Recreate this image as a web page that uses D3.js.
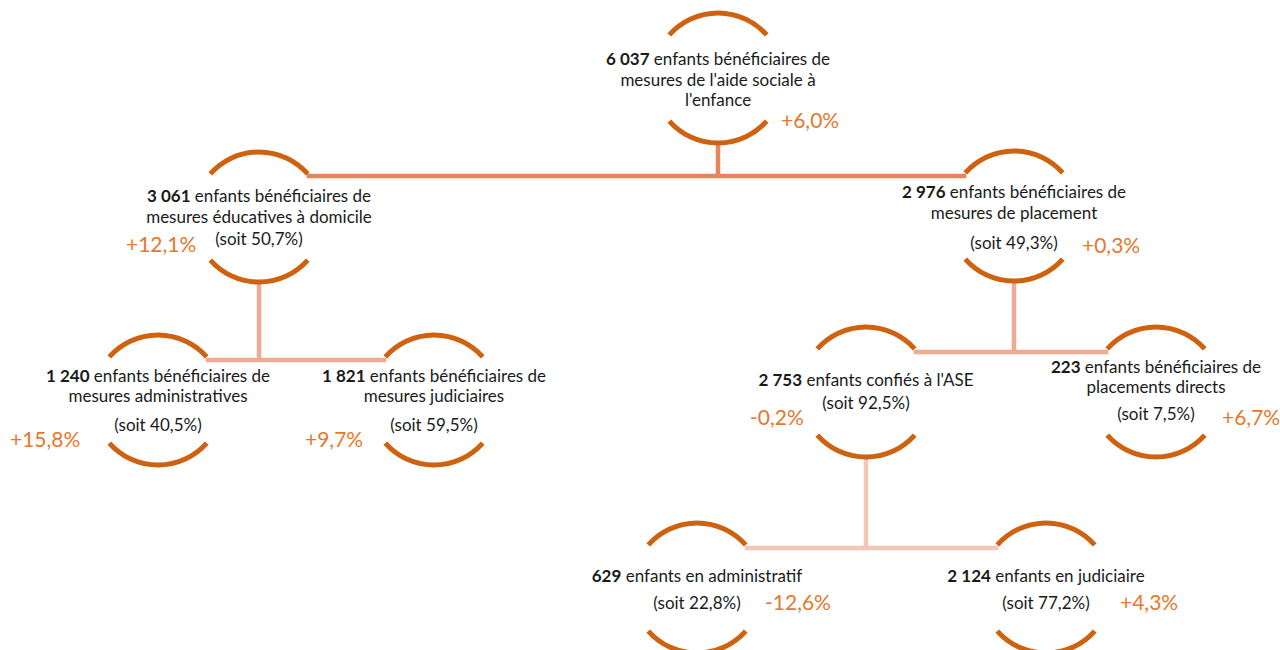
<!DOCTYPE html>
<html><head><meta charset="utf-8">
<script src="https://cdn.jsdelivr.net/npm/d3@7"></script>
<style>
html,body{margin:0;padding:0;background:#fff;}
svg{display:block;font-family:Lato, "Open Sans", sans-serif;}
</style></head>
<body><svg id="chart" width="1280" height="650"></svg>
<script>
// ---- DATA ----
const nodeIds   = ["total","domicile","placement","admin","judic","ase","directs","aseAdmin","aseJudic"];
const parents   = [null,"total","total","domicile","domicile","placement","placement","ase","ase"];
const counts    = [6037,3061,2976,1240,1821,2753,223,629,2124];
const shares    = [null,50.7,49.3,40.5,59.5,92.5,7.5,22.8,77.2];
const changes   = [6.0,12.1,0.3,15.8,9.7,-0.2,6.7,-12.6,4.3];
const labelLines = [
  ["enfants bénéficiaires de","mesures de l'aide sociale à","l'enfance"],
  ["enfants bénéficiaires de","mesures éducatives à domicile"],
  ["enfants bénéficiaires de","mesures de placement"],
  ["enfants bénéficiaires de","mesures administratives"],
  ["enfants bénéficiaires de","mesures judiciaires"],
  ["enfants confiés à l'ASE"],
  ["enfants bénéficiaires de","placements directs"],
  ["enfants en administratif"],
  ["enfants en judiciaire"]
];

// ---- LAYOUT (positions only) ----
const layout = {
  total:    {cx:718, cy:78,  lines:[65,86,106],      pct:[781,128]},
  domicile: {cx:259, cy:217, lines:[202,223,245],    pct:[126,252]},
  placement:{cx:1014,cy:216, lines:[198,219,249],    pct:[1082,253]},
  admin:    {cx:158, cy:400, lines:[382,402,431],    pct:[10,447]},
  judic:    {cx:434, cy:400, lines:[382,402,431],    pct:[305,447]},
  ase:      {cx:866, cy:392, lines:[386,409],        pct:[750,425]},
  directs:  {cx:1156,cy:392, lines:[373,393,420],    pct:[1222,425]},
  aseAdmin: {cx:697, cy:588, lines:[582,609],        pct:[765,610]},
  aseJudic: {cx:1046,cy:588, lines:[582,609],        pct:[1120,610]}
};
const R = 65, HALF = 48.5 * Math.PI/180;
const depthColor = ["#E6845E","#EDAB94","#F2C7B7"];

const frLocale = d3.formatLocale({decimal:",", thousands:"\u202F", grouping:[3], currency:["","€"]});
const fmtCount = n => frLocale.format(",d")(n).replace(/\u202F/g," ");
const fmtShare = v => "(soit " + frLocale.format(".1f")(v) + "%)";
const fmtChange = v => (v >= 0 ? "+" : "-") + frLocale.format(".1f")(Math.abs(v)) + "%";

const nodes = nodeIds.map((id,i)=>({id, parent:parents[i], count:counts[i], share:shares[i], change:changes[i], lines:labelLines[i]}));
const root = d3.stratify().id(d=>d.id).parentId(d=>d.parent)(nodes);
root.each(n=>{ const L = layout[n.id]; n.x = L.cx; n.y = L.cy; });

const svg = d3.select("#chart");

// connectors
const gLinks = svg.append("g");
root.each(n=>{
  if(!n.children) return;
  const kids = n.children.slice().sort((a,b)=>a.x-b.x);
  const yH = d3.min(kids, k=>k.y) - 40;
  const col = depthColor[n.depth];
  gLinks.append("line").attr("x1",n.x).attr("x2",n.x).attr("y1",n.y+R-2).attr("y2",yH)
    .attr("stroke",col).attr("stroke-width",4.5);
  gLinks.append("line").attr("x1",kids[0].x+R*Math.sin(HALF)-1).attr("x2",kids[kids.length-1].x-R*Math.sin(HALF)+1)
    .attr("y1",yH).attr("y2",yH).attr("stroke",col).attr("stroke-width",4.5);
});

// arcs
const arcTop = d3.arc().innerRadius(R).outerRadius(R).startAngle(-HALF).endAngle(HALF);
const arcBot = d3.arc().innerRadius(R).outerRadius(R).startAngle(Math.PI-HALF).endAngle(Math.PI+HALF);
const gNodes = svg.append("g");
root.each(n=>{
  const g = gNodes.append("g").attr("transform",`translate(${n.x},${n.y})`);
  [arcTop, arcBot].forEach(a=>{
    g.append("path").attr("d", a()).attr("fill","none").attr("stroke","#CF620E").attr("stroke-width",5);
  });
});

// texts
const gText = svg.append("g");
root.each(n=>{
  const L = layout[n.id];
  const d = n.data;
  const texts = [];
  d.lines.forEach((ln,i)=>texts.push({y:L.lines[i], num: i===0 ? fmtCount(d.count) : null, txt:ln}));
  if(d.share!=null) texts.push({y:L.lines[d.lines.length], num:null, txt:fmtShare(d.share)});
  texts.forEach(t=>{
    const te = gText.append("text").attr("x",L.cx).attr("y",t.y).attr("text-anchor","middle")
      .attr("font-size",17).attr("fill","#1a1a1a");
    if(t.num){ te.append("tspan").attr("font-weight","bold").text(t.num); te.append("tspan").text(" "+t.txt); }
    else te.text(t.txt);
  });
  gText.append("text").attr("x",L.pct[0]).attr("y",L.pct[1]).attr("font-size",21)
    .attr("fill","#E8772A").text(fmtChange(d.change));
});
</script></body></html>
